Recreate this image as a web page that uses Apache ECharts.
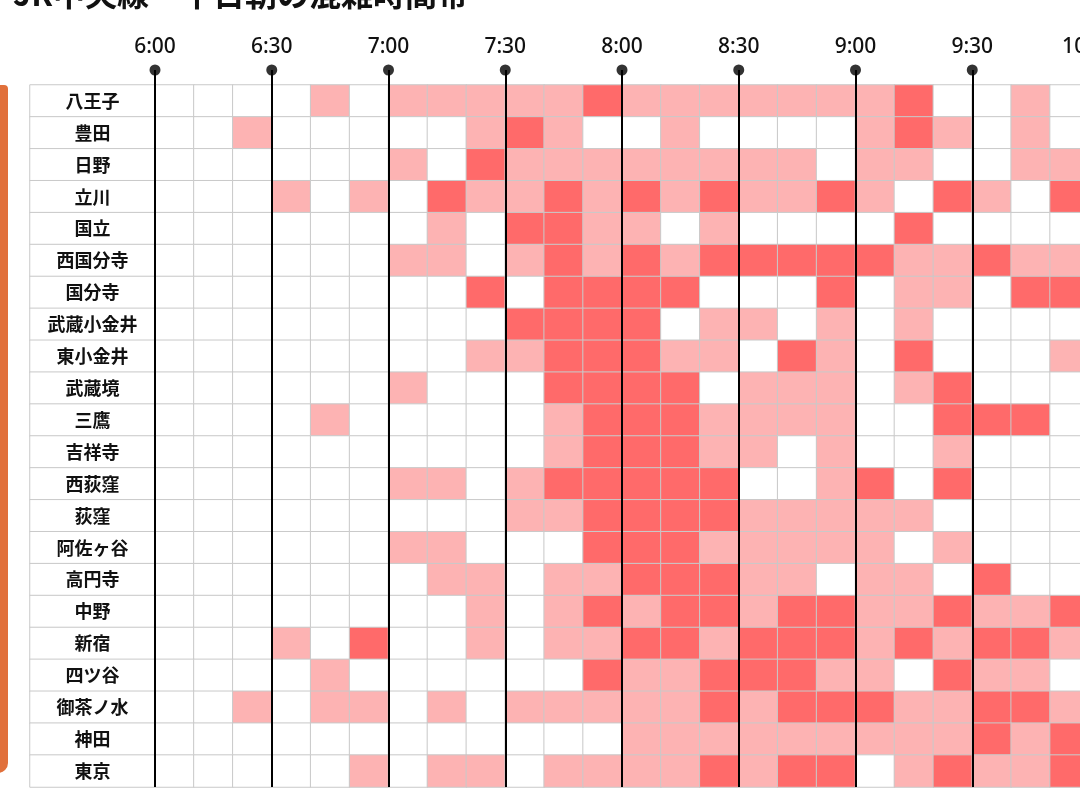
<!DOCTYPE html>
<html>
<head>
<meta charset="utf-8">
<script src="https://cdn.jsdelivr.net/npm/echarts@6.0.0/dist/echarts.min.js"></script>
<style>
  html, body { margin: 0; padding: 0; background: #fff; }
  #main { width: 1080px; height: 799px; }
</style>
</head>
<body>
<div id="main"></div>
<script>
var stations = ['八王子', '豊田', '日野', '立川', '国立', '西国分寺', '国分寺', '武蔵小金井',
    '東小金井', '武蔵境', '三鷹', '吉祥寺', '西荻窪', '荻窪', '阿佐ヶ谷', '高円寺',
    '中野', '新宿', '四ツ谷', '御茶ノ水', '神田', '東京'];

// 10分刻みの境界
var times = ['6:00', '6:10', '6:20', '6:30', '6:40', '6:50',
    '7:00', '7:10', '7:20', '7:30', '7:40', '7:50',
    '8:00', '8:10', '8:20', '8:30', '8:40', '8:50',
    '9:00', '9:10', '9:20', '9:30', '9:40', '9:50', '10:00'];
var slots = times.slice(0, times.length - 1);
var marks = ['6:00', '6:30', '7:00', '7:30', '8:00', '8:30', '9:00', '9:30', '10:00'];

// 0: 空いている, 1: やや混雑, 2: 混雑
var levels = [
    [0,0,0,0,1,0,1,1,1,1,1,2, 1,1,1,1,1,1,1,2,0,0,1,0], // 八王子
    [0,0,1,0,0,0,0,0,1,2,1,0, 0,1,0,0,0,0,1,2,1,0,1,0], // 豊田
    [0,0,0,0,0,0,1,0,2,1,1,1, 1,1,1,1,1,0,1,1,0,0,1,1], // 日野
    [0,0,0,1,0,1,0,2,1,1,2,1, 2,1,2,1,1,2,1,0,2,1,0,2], // 立川
    [0,0,0,0,0,0,0,1,0,2,2,1, 1,0,1,0,0,0,0,2,0,0,0,0], // 国立
    [0,0,0,0,0,0,1,1,0,1,2,1, 2,1,2,2,2,2,2,1,1,2,1,1], // 西国分寺
    [0,0,0,0,0,0,0,0,2,0,2,2, 2,2,0,0,0,2,0,1,1,0,2,2], // 国分寺
    [0,0,0,0,0,0,0,0,0,2,2,2, 2,0,1,1,0,1,0,1,0,0,0,0], // 武蔵小金井
    [0,0,0,0,0,0,0,0,1,1,2,2, 2,1,1,0,2,1,0,2,0,0,0,1], // 東小金井
    [0,0,0,0,0,0,1,0,0,0,2,2, 2,2,0,1,1,1,0,1,2,0,0,0], // 武蔵境
    [0,0,0,0,1,0,0,0,0,0,1,2, 2,2,1,1,1,1,0,0,2,2,2,0], // 三鷹
    [0,0,0,0,0,0,0,0,0,0,1,2, 2,2,1,1,0,1,0,0,1,0,0,0], // 吉祥寺
    [0,0,0,0,0,0,1,1,0,1,2,2, 2,2,2,0,0,1,2,0,2,0,0,0], // 西荻窪
    [0,0,0,0,0,0,0,0,0,1,1,2, 2,2,2,1,1,1,1,1,0,0,0,0], // 荻窪
    [0,0,0,0,0,0,1,1,0,0,0,2, 2,2,1,1,1,1,1,0,1,0,0,0], // 阿佐ヶ谷
    [0,0,0,0,0,0,0,1,1,0,1,1, 2,2,2,1,1,0,1,1,0,2,0,0], // 高円寺
    [0,0,0,0,0,0,0,0,1,0,1,2, 1,2,2,1,2,2,1,1,2,1,1,2], // 中野
    [0,0,0,1,0,2,0,0,1,0,1,1, 2,2,1,2,2,2,1,2,1,2,2,1], // 新宿
    [0,0,0,0,1,0,0,0,0,0,0,2, 1,1,2,2,2,1,1,0,2,1,1,0], // 四ツ谷
    [0,0,1,0,1,1,0,1,0,1,1,1, 1,1,2,1,2,2,2,1,1,2,2,1], // 御茶ノ水
    [0,0,0,0,0,0,0,0,0,0,0,0, 1,1,1,1,1,1,1,1,1,2,1,2], // 神田
    [0,0,0,0,0,1,0,1,1,0,1,1, 1,1,2,1,2,2,0,1,2,1,1,2]  // 東京
];

var cells = [];
levels.forEach(function (row, y) {
    row.forEach(function (v, x) {
        cells.push([x, y, v]);
    });
});

var chart = echarts.init(document.getElementById('main'));

var option = {
    backgroundColor: '#fff',
    animation: false,
    title: {
        text: 'JR中央線・平日朝の混雑時間帯',
        left: 8,
        top: -27,
        textStyle: {
            fontFamily: 'Noto Sans CJK JP',
            fontSize: 32,
            fontWeight: 'bold',
            color: '#111'
        }
    },
    graphic: [{
        type: 'rect',
        left: -6,
        top: 85,
        shape: { width: 14, height: 688, r: [0, 4, 10, 0] },
        style: { fill: '#E1703B' }
    }],
    grid: [
        { left: 155, right: -9, top: 85, bottom: 12, outerBoundsMode: 'none' },
        { left: 30, width: 125, top: 85, bottom: 12, outerBoundsMode: 'none' },
        { left: 155, right: -9, top: 70, bottom: 12, outerBoundsMode: 'none' }
    ],
    xAxis: [
        { type: 'category', gridIndex: 0, data: slots, show: false },
        { type: 'category', gridIndex: 1, data: ['駅'], show: false },
        {
            type: 'category', gridIndex: 2, data: times, position: 'top',
            boundaryGap: false,
            axisLine: { show: false },
            axisTick: { show: false },
            splitLine: { show: false },
            axisLabel: {
                interval: function (idx, val) { return marks.indexOf(val) >= 0; },
                hideOverlap: false,
                margin: 12,
                fontFamily: 'Noto Sans',
                fontSize: 21,
                fontWeight: 500,
                color: '#111'
            }
        }
    ],
    yAxis: [
        { type: 'category', gridIndex: 0, data: stations, inverse: true, show: false },
        { type: 'category', gridIndex: 1, data: stations, inverse: true, show: false },
        { type: 'value', gridIndex: 2, min: 0, max: 1, show: false }
    ],
    visualMap: {
        type: 'piecewise',
        show: false,
        seriesIndex: 0,
        dimension: 2,
        pieces: [
            { value: 0, color: '#FFFFFF' },
            { value: 1, color: '#FDB3B3' },
            { value: 2, color: '#FF6A6A' }
        ]
    },
    series: [
        {
            type: 'heatmap',
            xAxisIndex: 0,
            yAxisIndex: 0,
            data: cells,
            itemStyle: { borderColor: '#c9c9c9', borderWidth: 1 },
            emphasis: { disabled: true }
        },
        {
            type: 'heatmap',
            xAxisIndex: 1,
            yAxisIndex: 1,
            data: stations.map(function (s) { return ['駅', s, 0]; }),
            itemStyle: { color: '#fff', borderColor: '#c9c9c9', borderWidth: 1 },
            label: {
                show: true,
                formatter: function (p) { return p.data[1]; },
                fontFamily: 'Noto Sans CJK JP',
                fontSize: 18,
                fontWeight: 'bold',
                color: '#111'
            },
            emphasis: { disabled: true }
        },
        {
            type: 'scatter',
            xAxisIndex: 2,
            yAxisIndex: 2,
            z: 10,
            clip: false,
            symbolSize: 11,
            itemStyle: { color: '#000' },
            data: marks.map(function (m) { return [m, 1]; }),
            markLine: {
                silent: true,
                symbol: 'none',
                label: { show: false },
                lineStyle: { color: '#000', width: 2, type: 'solid' },
                data: marks.map(function (m) { return { xAxis: m }; })
            }
        }
    ]
};

chart.setOption(option);
</script>
</body>
</html>
